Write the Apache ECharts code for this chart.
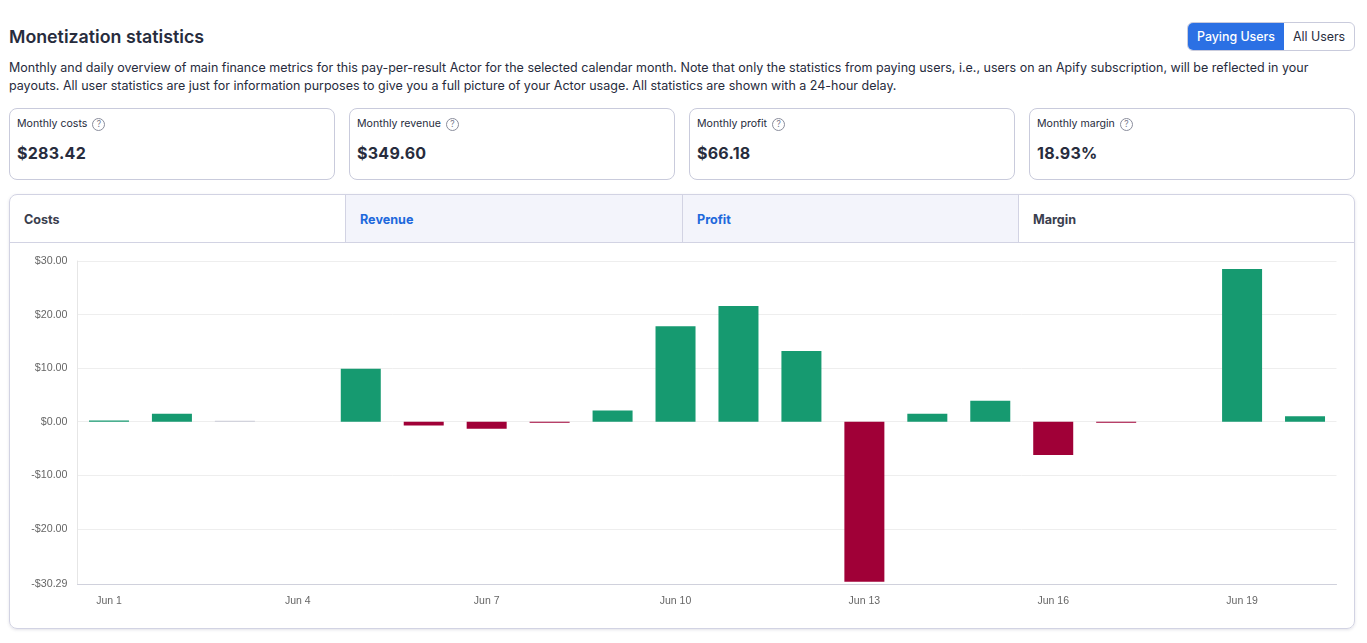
<!DOCTYPE html>
<html>
  <head>
    <meta charset="utf-8" />
    <title>Monetization statistics</title>
    <script src="https://cdn.jsdelivr.net/npm/echarts@6/dist/echarts.min.js"></script>
    <style>
      html, body { margin: 0; padding: 0; background: #fff; width: 1367px; height: 643px; overflow: hidden; }
      body { font-family: Inter, "Noto Sans", sans-serif; color: #272c3d; position: relative; }
      .abs { position: absolute; box-sizing: border-box; }
      h1 { position: absolute; left: 9px; top: 25px; margin: 0; font-size: 17.8px; line-height: 24px; font-weight: 600; }
      .desc { left: 9px; top: 59px; width: 1340px; font-size: 12.5px; line-height: 18px; white-space: nowrap; }
      .toggle { left: 1187px; top: 22px; width: 168px; height: 29px; border: 1px solid #c9cbdc; border-radius: 6px; overflow: hidden; font-size: 12.4px; line-height: 27px; }
      .toggle span { position: absolute; top: 0; height: 27px; text-align: center; }
      .toggle .on { left: 0; width: 96px; background: #2b70e4; color: #fff; font-weight: 500; }
      .toggle .off { left: 96px; width: 70px; }
      .card { top: 108px; height: 72px; border: 1px solid #c9cbdc; border-radius: 8px; }
      .card .lbl { position: absolute; left: 7px; top: 8px; font-size: 10.6px; line-height: 14px; white-space: nowrap; }
      .card .q { display: inline-block; width: 11px; height: 11px; margin-left: 5px; border: 1px solid #8a8d9c; border-radius: 50%; font-size: 8.5px; line-height: 11px; text-align: center; color: #777a8a; vertical-align: 0; }
      .card .val { position: absolute; left: 7px; top: 34px; font-size: 16px; line-height: 20px; font-weight: 700; letter-spacing: 0.25px; white-space: nowrap; }
      .panel { left: 9px; top: 194px; width: 1346px; height: 435px; border: 1px solid #d2d3e3; border-radius: 8px; box-shadow: 0 1px 3px rgba(60, 60, 100, 0.15); overflow: hidden; }
      .tab { top: 0; height: 48px; border-bottom: 1px solid #d2d3e3; font-size: 12.6px; font-weight: 700; line-height: 49px; padding-left: 14px; color: #3a3e4e; }
      .tab.sel { background: #f3f4fb; color: #2068dc; border-left: 1px solid #d2d3e3; }
      .tab.last { border-left: 1px solid #d2d3e3; }
      #main { position: absolute; left: 0; top: 243px; width: 1367px; height: 390px; }
    </style>
  </head>
  <body>
    <h1>Monetization statistics</h1>
    <div class="abs desc">Monthly and daily overview of main finance metrics for this pay-per-result Actor for the selected calendar month. Note that only the statistics from paying users, i.e., users on an Apify subscription, will be reflected in your<br>payouts. All user statistics are just for information purposes to give you a full picture of your Actor usage. All statistics are shown with a 24-hour delay.</div>
    <div class="abs toggle"><span class="on">Paying Users</span><span class="off">All Users</span></div>
    <div id="cards"></div>
    <div class="abs panel" id="panel"></div>
    <div id="main"></div>
    <script type="text/javascript">
      var categories = ['Jun 1', 'Jun 2', 'Jun 3', 'Jun 4', 'Jun 5', 'Jun 6', 'Jun 7', 'Jun 8', 'Jun 9', 'Jun 10',
        'Jun 11', 'Jun 12', 'Jun 13', 'Jun 14', 'Jun 15', 'Jun 16', 'Jun 17', 'Jun 18', 'Jun 19', 'Jun 20'];
      var profit = [0.25, 1.5, 0.1, 0, 9.9, -0.7, -1.3, -0.2, 2.1, 17.8,
        21.6, 13.2, -29.85, 1.5, 3.9, -6.2, -0.2, 0, 28.5, 1.0];
      var yTicks = [-30.29, -20, -10, 0, 10, 20, 30];

      var cardLabels = ['Monthly costs', 'Monthly revenue', 'Monthly profit', 'Monthly margin'];
      var cardValues = ['$283.42', '$349.60', '$66.18', '18.93%'];
      var tabLabels = ['Costs', 'Revenue', 'Profit', 'Margin'];

      function barColor(v) {
        if (v === 0) return 'transparent';
        // almost-zero days show as a pale hairline
        if (Math.abs(v) < 0.15) return '#c9cad6';
        return v < 0 ? '#a00037' : '#169a70';
      }

      window.onload = function () {
        var cardLeft = [9, 349, 689, 1029];
        var cardsHtml = '';
        cardLabels.forEach(function (label, i) {
          cardsHtml += '<div class="abs card" style="left:' + cardLeft[i] + 'px;width:326px">' +
            '<div class="lbl">' + label + '<span class="q">?</span></div>' +
            '<div class="val">' + cardValues[i] + '</div></div>';
        });
        document.getElementById('cards').innerHTML = cardsHtml;

        var tabLeft = [0, 335, 672, 1008];
        var tabWidth = [335, 337, 336, 336];
        var tabClass = ['', ' sel', ' sel', ' last'];
        var tabsHtml = '';
        tabLabels.forEach(function (label, i) {
          tabsHtml += '<div class="abs tab' + tabClass[i] + '" style="left:' + tabLeft[i] + 'px;width:' + tabWidth[i] + 'px">' + label + '</div>';
        });
        document.getElementById('panel').innerHTML = tabsHtml;

        var myChart = echarts.init(document.getElementById('main'));
        var option = {
          animation: false,
          textStyle: { fontFamily: '"Liberation Sans", Arial, sans-serif' },
          tooltip: { trigger: 'axis', axisPointer: { type: 'shadow' } },
          grid: { left: 77.5, right: 30.5, top: 18, bottom: 49 },
          xAxis: {
            type: 'category',
            data: categories,
            axisLine: { onZero: false, lineStyle: { color: '#d0d1dc' } },
            axisTick: { show: false },
            axisLabel: { interval: 2, color: '#666', fontSize: 10.5, margin: 12 }
          },
          yAxis: {
            type: 'value',
            min: -30.29,
            max: 30,
            axisLine: { show: true, lineStyle: { color: '#e6e6e6' } },
            axisTick: { show: false, customValues: yTicks },
            axisLabel: {
              customValues: yTicks,
              color: '#666',
              fontSize: 10.7,
              margin: 10,
              formatter: function (v) {
                return (v < 0 ? '-$' : '$') + Math.abs(v).toFixed(2);
              }
            },
            splitLine: { lineStyle: { color: '#eeeeee' } }
          },
          series: [
            {
              name: 'Profit',
              type: 'bar',
              barWidth: 40,
              barMinHeight: 1,
              data: profit.map(function (v) {
                return { value: v, itemStyle: { color: barColor(v) } };
              })
            }
          ]
        };
        myChart.setOption(option);
      };
    </script>
  </body>
</html>
